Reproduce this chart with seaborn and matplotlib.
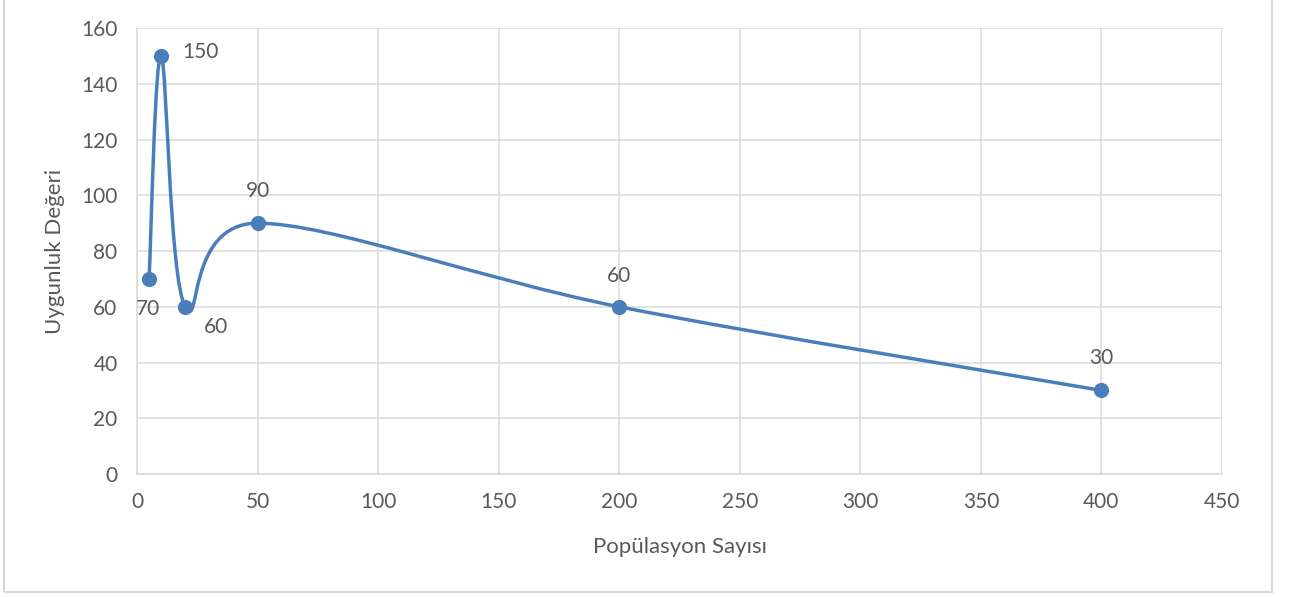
import matplotlib
matplotlib.use("Agg")
import matplotlib.pyplot as plt
from matplotlib.path import Path
from matplotlib.patches import PathPatch, Rectangle
import numpy as np
import pandas as pd
import seaborn as sns

# ----------------------------------------------------------
# Données
# ----------------------------------------------------------
populasyon = [5, 10, 20, 50, 200, 400]
uygunluk = [70, 150, 60, 90, 60, 30]
x_ticks = [0, 50, 100, 150, 200, 250, 300, 350, 400, 450]
y_ticks = [0, 20, 40, 60, 80, 100, 120, 140, 160]
# décalage des étiquettes (pixels)
label_offsets = [(-1, -30), (39, 4), (31, -20), (0, 32), (0, 31), (0, 32)]

df = pd.DataFrame({"pop": populasyon, "fit": uygunluk})

BLUE = "#4a7ebb"
GRAY = "#d9d9d9"
TXT = "#595959"

sns.set_theme(style="whitegrid")
plt.rcParams["font.family"] = ["Lato", "DejaVu Sans"]

fig = plt.figure(figsize=(12.9, 5.97), dpi=100)
ax = fig.add_axes([0.1062, 0.206, 0.8411, 0.747])

# ligne lissée (bézier type Excel, tangentes à 1/6)
pts = df[["pop", "fit"]].to_numpy(dtype=float)
n = len(pts)
verts = [pts[0]]
codes = [Path.MOVETO]
for i in range(n - 1):
    p0 = pts[i - 1] if i > 0 else pts[i]
    p1 = pts[i]
    p2 = pts[i + 1]
    p3 = pts[i + 2] if i + 2 < n else pts[i + 1]
    c1 = p1 + (p2 - p0) / 6
    c2 = p2 - (p3 - p1) / 6
    verts += [c1, c2, p2]
    codes += [Path.CURVE4] * 3
ax.add_patch(PathPatch(Path(verts, codes), facecolor="none",
                       edgecolor=BLUE, lw=2.5, zorder=3, capstyle="round"))

sns.scatterplot(data=df, x="pop", y="fit", ax=ax, color=BLUE, s=120,
                edgecolor=BLUE, linewidth=0, zorder=4, legend=False)

for (x, y), off in zip(zip(populasyon, uygunluk), label_offsets):
    ax.annotate(str(y), (x, y), xytext=off, textcoords="offset pixels",
                ha="center", va="center", fontsize=15, color=TXT)

ax.set_xlim(0, 450)
ax.set_ylim(0, 160)
ax.set_xticks(x_ticks)
ax.set_yticks(y_ticks)
ax.grid(True, color=GRAY, lw=1.1)
ax.set_axisbelow(True)
for s in ["top", "right"]:
    ax.spines[s].set_visible(False)
for s in ["left", "bottom"]:
    ax.spines[s].set_color(GRAY)
    ax.spines[s].set_linewidth(1.1)
ax.tick_params(axis="x", length=0, pad=13, labelsize=15, labelcolor=TXT)
ax.tick_params(axis="y", length=0, pad=14, labelsize=15, labelcolor=TXT)
ax.set_xlabel("Popülasyon Sayısı", fontsize=16, color=TXT, labelpad=18)
ax.set_ylabel("Uygunluk Değeri", fontsize=16, color=TXT, labelpad=12)

fig.patches.append(Rectangle((4 / 1290, 5 / 597), 1268 / 1290, 1.0,
                             transform=fig.transFigure, fill=False,
                             edgecolor=GRAY, lw=1.5))

fig.savefig("out.png", dpi=100)
